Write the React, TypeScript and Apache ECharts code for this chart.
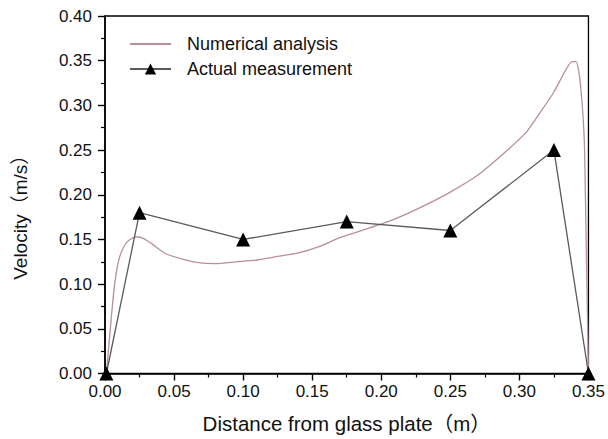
import React, { useEffect, useRef } from "react";
import * as echarts from "echarts";

const numX = [0.001, 0.003, 0.005, 0.007, 0.01, 0.014, 0.018, 0.023, 0.028, 0.034, 0.044, 0.056, 0.068, 0.08, 0.095, 0.11, 0.125, 0.14, 0.155, 0.17, 0.19, 0.21, 0.23, 0.25, 0.27, 0.29, 0.305, 0.315, 0.325, 0.333, 0.338, 0.341, 0.343, 0.345, 0.347, 0.348, 0.349, 0.35];
const numY = [0.0, 0.035, 0.07, 0.1, 0.127, 0.143, 0.15, 0.153, 0.151, 0.145, 0.134, 0.128, 0.124, 0.123, 0.125, 0.127, 0.131, 0.135, 0.142, 0.152, 0.162, 0.173, 0.187, 0.203, 0.222, 0.248, 0.27, 0.292, 0.315, 0.338, 0.349, 0.349, 0.338, 0.31, 0.26, 0.18, 0.09, 0.0];

const measX = [0.001, 0.025, 0.1, 0.175, 0.25, 0.325, 0.35];
const measY = [0, 0.18, 0.15, 0.17, 0.16, 0.25, 0];

const seriesNames = ["Numerical analysis", "Actual measurement"];
const xTitle = "Distance from glass plate（m）";
const yTitle = "Velocity（m/s）";

const FONT = "'Liberation Sans', Arial, 'Noto Sans CJK SC', sans-serif";

export default function App() {
  const ref = useRef<HTMLDivElement>(null);
  useEffect(() => {
    if (!ref.current) return;
    const chart = echarts.init(ref.current, null, { renderer: "svg" });
    const axisCommon = {
      axisLine: { show: true, lineStyle: { color: "#000", width: 1.6 } },
      axisTick: { show: true, inside: false, length: 7, lineStyle: { color: "#000", width: 1.4 } },
      minorTick: { show: true, splitNumber: 2, length: 4, lineStyle: { color: "#000", width: 1.2 } },
      splitLine: { show: false },
      nameLocation: "middle" as const,
    };
    chart.setOption({
      animation: false,
      grid: { left: 105, right: 14, top: 16, bottom: 63, show: true, borderColor: "#000", borderWidth: 1.3 },
      legend: {
        orient: "vertical",
        left: 129,
        top: 35,
        padding: 0,
        itemWidth: 41,
        itemHeight: 14,
        itemGap: 7,
        data: [
          { name: seriesNames[0], itemStyle: { opacity: 0 } },
          { name: seriesNames[1] },
        ],
        textStyle: { color: "#111", fontSize: 18, fontFamily: FONT, padding: [0, 0, 0, 11] },
      },
      xAxis: {
        type: "value",
        min: 0,
        max: 0.35,
        interval: 0.05,
        name: xTitle,
        nameGap: 40,
        ...axisCommon,
        axisLabel: { color: "#111", fontSize: 17, fontFamily: FONT, margin: 9, formatter: (v: number) => v.toFixed(2) },
        nameTextStyle: { color: "#111", fontSize: 20.5, fontFamily: FONT },
      },
      yAxis: {
        type: "value",
        min: 0,
        max: 0.4,
        interval: 0.05,
        name: yTitle,
        nameGap: 75,
        ...axisCommon,
        axisLabel: { color: "#111", fontSize: 17, fontFamily: FONT, margin: 13, formatter: (v: number) => v.toFixed(2) },
        nameTextStyle: { color: "#111", fontSize: 19, fontFamily: FONT, padding: [0, 36, 0, 0] },
      },
      series: [
        {
          name: seriesNames[0],
          type: "line",
          data: numX.map((x, i) => [x, numY[i]]),
          showSymbol: false,
          smooth: 0.2,
          clip: false,
          lineStyle: { color: "#b88f98", width: 1.3 },
          itemStyle: { color: "#b88f98" },
        },
        {
          name: seriesNames[1],
          type: "line",
          data: measX.map((x, i) => [x, measY[i]]),
          symbol: "triangle",
          symbolSize: 14,
          clip: false,
          lineStyle: { color: "#5a5a5a", width: 1.3 },
          itemStyle: { color: "#000" },
        },
      ],
    });
    return () => chart.dispose();
  }, []);
  return <div ref={ref} style={{ position: "fixed", left: 0, top: 0, width: 608, height: 439, background: "#fff" }} />;
}
